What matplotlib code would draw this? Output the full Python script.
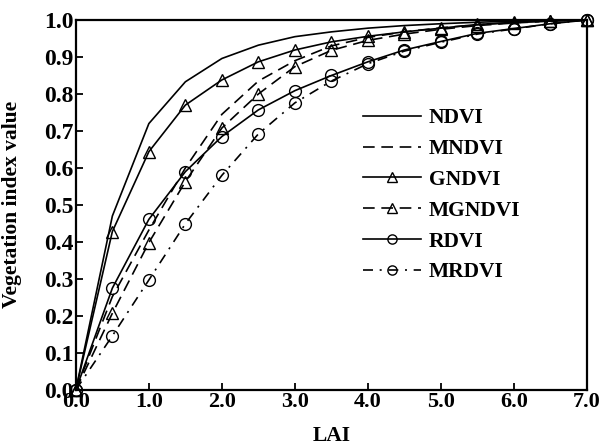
import matplotlib
matplotlib.use('Agg')
import matplotlib.pyplot as plt
import numpy as np

# ── Data ──
lai = [0.0, 0.5, 1.0, 1.5, 2.0, 2.5, 3.0, 3.5, 4.0, 4.5, 5.0, 5.5, 6.0, 6.5, 7.0]

ndvi   = [0.0, 0.47, 0.72, 0.833, 0.896, 0.932, 0.955, 0.968, 0.978, 0.985, 0.99, 0.994, 0.997, 0.999, 1.0]
mndvi  = [0.0, 0.252, 0.432, 0.60, 0.745, 0.835, 0.89, 0.93, 0.953, 0.968, 0.979, 0.987, 0.993, 0.997, 1.0]
gndvi  = [0.0, 0.428, 0.644, 0.77, 0.838, 0.887, 0.919, 0.941, 0.956, 0.968, 0.978, 0.988, 0.994, 0.998, 1.0]
mgndvi = [0.0, 0.207, 0.398, 0.563, 0.708, 0.80, 0.874, 0.918, 0.945, 0.962, 0.975, 0.985, 0.992, 0.997, 1.0]
rdvi   = [0.0, 0.275, 0.461, 0.59, 0.685, 0.757, 0.809, 0.85, 0.887, 0.919, 0.942, 0.964, 0.977, 0.99, 1.0]
mrdvi  = [0.0, 0.146, 0.297, 0.449, 0.58, 0.692, 0.776, 0.835, 0.882, 0.916, 0.94, 0.962, 0.976, 0.99, 1.0]

plt.rcParams['font.family'] = ['Liberation Serif', 'DejaVu Serif']
plt.rcParams['font.weight'] = 'bold'

fig = plt.figure(figsize=(6.02, 4.45), dpi=100)
ax = fig.add_axes([0.126, 0.124, 0.849, 0.831])

lw = 1.2
ms = 8.5
ax.plot(lai, ndvi, '-', color='black', lw=lw, label='NDVI')
ax.plot(lai, mndvi, color='black', lw=lw, ls=(0, (7, 4)), label='MNDVI')
ax.plot(lai, gndvi, '-', color='black', lw=lw, marker='^', ms=ms,
        mfc='none', mec='black', mew=1.0, label='GNDVI', clip_on=False)
ax.plot(lai, mgndvi, color='black', lw=lw, ls=(0, (7, 4)), marker='^', ms=ms,
        mfc='none', mec='black', mew=1.0, label='MGNDVI', clip_on=False)
ax.plot(lai, rdvi, '-', color='black', lw=lw, marker='o', ms=ms,
        mfc='none', mec='black', mew=1.0, label='RDVI', clip_on=False)
ax.plot(lai, mrdvi, color='black', lw=lw, ls=(0, (6, 4, 1.2, 4)), marker='o', ms=ms,
        mfc='none', mec='black', mew=1.0, label='MRDVI', clip_on=False)

ax.set_xlim(0, 7)
ax.set_ylim(0, 1.0)
ax.set_xticks(np.arange(0, 7.01, 1.0))
ax.set_yticks(np.arange(0, 1.001, 0.1))
ax.xaxis.set_major_formatter(plt.FormatStrFormatter('%.1f'))
ax.yaxis.set_major_formatter(plt.FormatStrFormatter('%.1f'))
ax.tick_params(direction='in', length=5, width=1.3, pad=1.5, top=False, right=False)
ax.tick_params(axis='x', labelsize=16)
ax.tick_params(axis='y', labelsize=17)
for lab in ax.get_xticklabels() + ax.get_yticklabels():
    lab.set_fontweight('bold')
for sp in ax.spines.values():
    sp.set_linewidth(1.6)

ax.set_xlabel('LAI', fontsize=15.5, fontweight='bold', labelpad=10)
ax.set_ylabel('Vegetation index value', fontsize=15.5, fontweight='bold')
ax.yaxis.set_label_coords(-0.106, 0.5)

leg = ax.legend(loc='upper left', bbox_to_anchor=(0.545, 0.785), frameon=False,
                fontsize=15.5, handlelength=2.7, handletextpad=0.35,
                labelspacing=0.5, borderaxespad=0, markerscale=0.78)
for t in leg.get_texts():
    t.set_fontweight('bold')

fig.savefig('out.png', dpi=100, facecolor='white')
